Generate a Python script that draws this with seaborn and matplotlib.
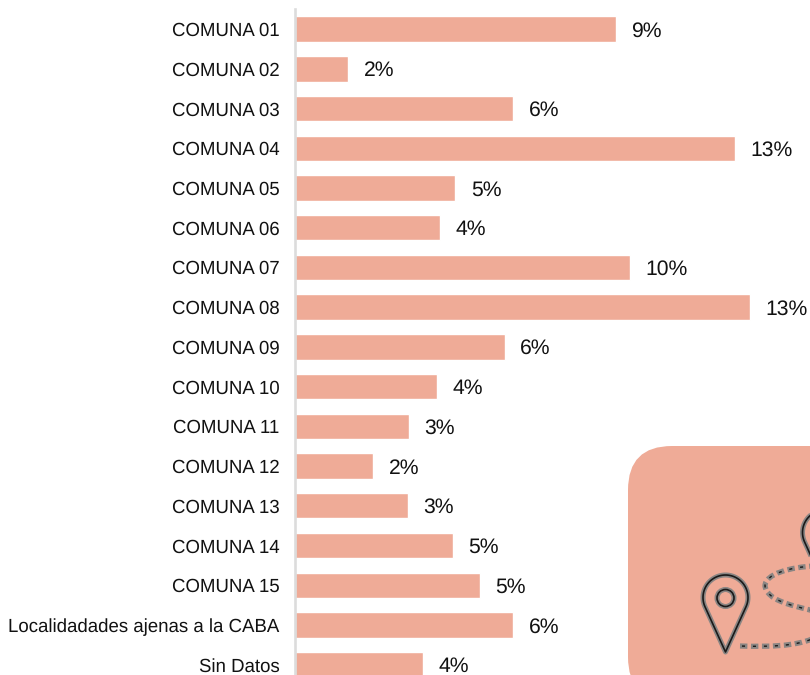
import numpy as np
import pandas as pd
import matplotlib
matplotlib.use("Agg")
import matplotlib.pyplot as plt
import seaborn as sns
from matplotlib.patches import Circle, FancyBboxPatch, PathPatch
from matplotlib.path import Path

# Values
comunas = ["COMUNA 01", "COMUNA 02", "COMUNA 03", "COMUNA 04", "COMUNA 05", "COMUNA 06",
           "COMUNA 07", "COMUNA 08", "COMUNA 09", "COMUNA 10", "COMUNA 11", "COMUNA 12",
           "COMUNA 13", "COMUNA 14", "COMUNA 15", "Localidadades ajenas a la CABA", "Sin Datos"]
valores = [9.52, 1.57, 6.48, 13.06, 4.76, 4.3, 9.94, 13.5, 6.22, 4.22, 3.37, 2.32, 3.35, 4.69, 5.49, 6.47, 3.8]
etiquetas = ["9%", "2%", "6%", "13%", "5%", "4%", "10%", "13%", "6%", "4%", "3%", "2%", "3%", "5%", "5%", "6%", "4%"]

SALMON = "#EFAB97"
HALO = "#8A8583"
INK = "#1A1A1A"

sns.set_theme(style="white")
plt.rcParams["font.family"] = ["Liberation Sans", "DejaVu Sans"]
plt.rcParams["text.hinting"] = "no_hinting"
plt.rcParams["text.hinting_factor"] = 8

df = pd.DataFrame({"comuna": comunas, "valor": valores})

fig = plt.figure(figsize=(8.1, 6.75), dpi=100)
ax = fig.add_axes([295 / 810, 0, 515 / 810, 665.8 / 675])

# Icon card sits behind the bars, in pixel coordinates of the figure
icon = fig.add_axes([0, 0, 1, 1], zorder=0)
ax.set_zorder(1)
ax.patch.set_alpha(0)
icon.set_xlim(0, 810)
icon.set_ylim(675, 0)
icon.axis("off")
icon.add_patch(FancyBboxPatch((628, 446), 400, 255, boxstyle="round,pad=0,rounding_size=44",
                              fc=SALMON, ec="none"))


def pin(cx, top, bottom, r):
    # circle head with straight sides running down to the tip
    cy = top + r
    a = np.arccos(r / (bottom - cy))
    t = np.linspace(np.pi / 2 + a, 2.5 * np.pi - a, 60)
    verts = [(cx, bottom)] + list(zip(cx + r * np.cos(t), cy + r * np.sin(t))) + [(cx, bottom)]
    return Path(verts, closed=True)


for cx, top, bottom, r, cr in [(725.5, 575, 652, 22.5, 8.5), (825, 510, 587, 22.5, 8.5)]:
    shape = pin(cx, top, bottom, r)
    for c, w in [(HALO, 3.6), (INK, 1.2)]:
        icon.add_patch(PathPatch(shape, fc="none", ec=c, lw=w, joinstyle="round"))
        icon.add_patch(Circle((cx, top + 23), cr, fc="none", ec=c, lw=w))

route = Path([(740, 646), (770, 647), (795, 646), (812, 639),
              (845, 627), (830, 615), (810, 610),
              (790, 605), (767, 600), (765, 586),
              (765, 574), (790, 567), (815, 566)],
             [Path.MOVETO] + [Path.CURVE4] * 12)
icon.add_patch(PathPatch(route, fc="none", ec=HALO, lw=3.8, capstyle="butt", ls=(0, (1.4, 0.68))))
icon.add_patch(PathPatch(route, fc="none", ec=INK, lw=1.0, capstyle="butt", ls=(6.48, (2.2, 5.7))))

# Bars
sns.barplot(data=df, x="valor", y="comuna", color=SALMON, saturation=1, width=0.64, ax=ax)
ax.set_xlim(0, 515 / 33.7)
ax.set_ylim(16.26, -0.5)
ax.set_xlabel("")
ax.set_ylabel("")
ax.set_xticks([])
ax.tick_params(axis="y", length=0, pad=11, labelsize=13.4, labelcolor="#111111")

sns.despine(ax=ax, left=False, top=True, right=True, bottom=True)
ax.spines["left"].set_color("#DCDCDC")
ax.spines["left"].set_linewidth(1.9)

labels = ax.bar_label(ax.containers[0], labels=etiquetas, padding=11.5, fontsize=15.2,
                      color="#111111", clip_on=False)
for t in labels:
    t.xyann = (11.2, -1.4)

fig.savefig("out.png", dpi=100)
